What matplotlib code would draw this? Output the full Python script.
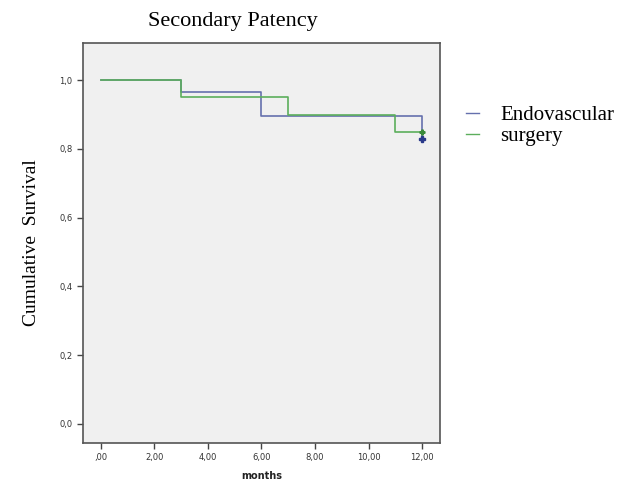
import matplotlib.pyplot as plt
from matplotlib.lines import Line2D

# Kaplan-Meier step data (months, cumulative survival)
endo_months = [0, 3, 6, 12]
endo_surv = [1.0, 0.9655, 0.8966, 0.8276]
surg_months = [0, 3, 7, 11, 12]
surg_surv = [1.0, 0.95, 0.90, 0.85, 0.85]

x_ticks = [0, 2, 4, 6, 8, 10, 12]
x_labels = [",00", "2,00", "4,00", "6,00", "8,00", "10,00", "12,00"]
y_ticks = [0.0, 0.2, 0.4, 0.6, 0.8, 1.0]
y_labels = ["0,0", "0,2", "0,4", "0,6", "0,8", "1,0"]

blue = "#6570ad"
green = "#5cae5c"

fig = plt.figure(figsize=(6.27, 4.83), dpi=100)
ax = fig.add_axes([0.132, 0.083, 0.570, 0.828])
ax.set_facecolor("#f0f0f0")

ax.step(endo_months, endo_surv, where="post", color=blue, lw=1.2)
ax.step(surg_months, surg_surv, where="post", color=green, lw=1.2)
ax.plot([12], [endo_surv[-1]], marker="P", color="#2a3a8a", ms=4)
ax.plot([12], [surg_surv[-1]], marker="P", color="#3a8a3a", ms=3.5)

ax.set_xlim(-0.67, 12.67)
ax.set_ylim(-0.055, 1.108)
ax.set_xticks(x_ticks)
ax.set_xticklabels(x_labels, fontsize=6, color="#333333")
ax.set_yticks(y_ticks)
ax.set_yticklabels(y_labels, fontsize=6, color="#333333")
ax.tick_params(direction="out", length=4, width=1, color="#444444")
for s in ax.spines.values():
    s.set_color("#555555")
    s.set_linewidth(1.2)

ax.set_xlabel("months", fontsize=7, fontweight="bold", color="#222222", labelpad=6)
ax.set_ylabel("Cumulative  Survival", fontsize=14, family="Liberation Serif", labelpad=14)
fig.text(0.372, 0.955, "Secondary Patency", ha="center", va="center",
         fontsize=16, family="Liberation Serif")

handles = [Line2D([0], [0], color=blue, lw=1), Line2D([0], [0], color=green, lw=1)]
ax.legend(handles, ["Endovascular", "surgery"], loc="upper left",
          bbox_to_anchor=(1.02, 0.89), frameon=False, handlelength=0.6,
          handletextpad=1.05, labelspacing=0.05,
          prop={"family": "Liberation Serif", "size": 15})

fig.savefig("out.png", dpi=100)
